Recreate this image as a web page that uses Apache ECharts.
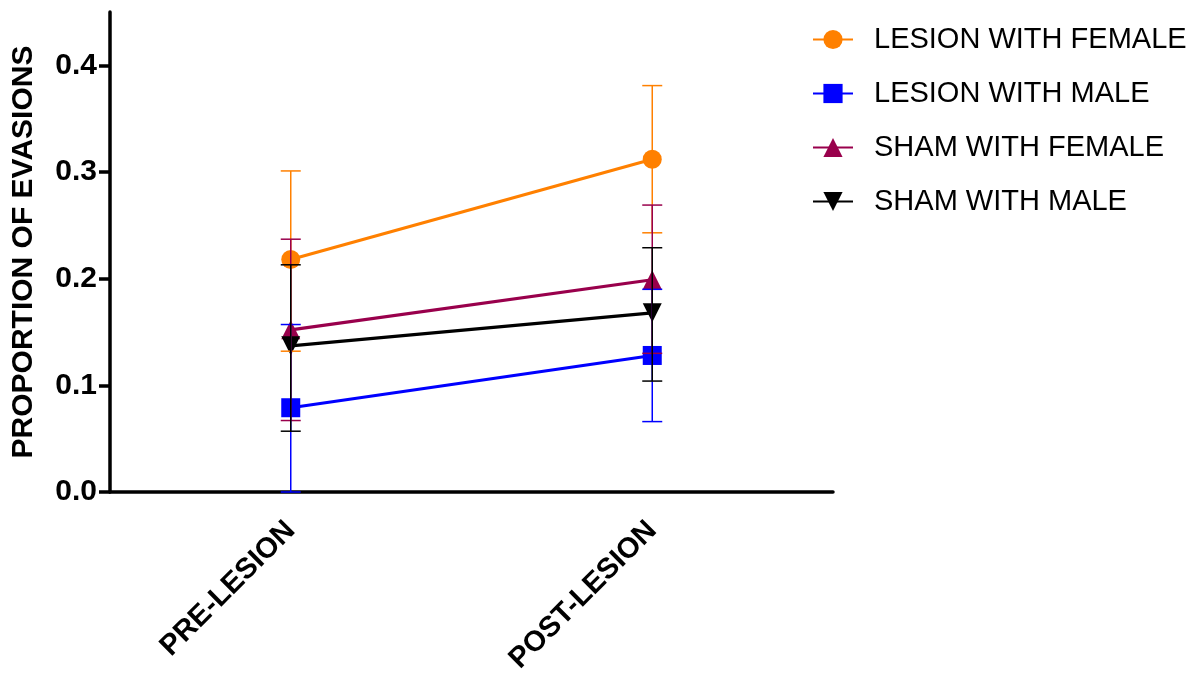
<!DOCTYPE html>
<html><head><meta charset="utf-8">
<script src="https://cdn.jsdelivr.net/npm/echarts@6/dist/echarts.min.js"></script>
<style>html,body{margin:0;padding:0;background:#fff}#c{width:1196px;height:677px}</style>
</head><body><div id="c"></div>
<script>
const categories = ['PRE-LESION', 'POST-LESION'];
const seriesNames = ['LESION WITH FEMALE', 'LESION WITH MALE', 'SHAM WITH FEMALE', 'SHAM WITH MALE'];
const lesionFemale = [0.218, 0.312];
const lesionMale = [0.079, 0.128];
const shamFemale = [0.152, 0.199];
const shamMale = [0.137, 0.168];
const lesionFemaleErr = [[0.132, 0.301], [0.243, 0.381]];
const lesionMaleErr = [[0.0, 0.157], [0.066, 0.190]];
const shamFemaleErr = [[0.067, 0.237], [0.130, 0.269]];
const shamMaleErr = [[0.057, 0.213], [0.104, 0.229]];
const yTicks = [0, 0.1, 0.2, 0.3, 0.4];

const colors = ['#ff8000', '#0000ff', '#99004c', '#000000'];
const symbols = ['circle', 'rect', 'triangle', 'path://M0,0 L10,0 L5,9 Z'];
const means = [lesionFemale, lesionMale, shamFemale, shamMale];
const errs = [lesionFemaleErr, lesionMaleErr, shamFemaleErr, shamMaleErr];
const font = '"Liberation Sans", Arial, sans-serif';

const series = [];
means.forEach((m, i) => {
  series.push({
    name: seriesNames[i], type: 'line', data: m, z: 2,
    symbol: symbols[i], symbolSize: 19,
    lineStyle: {color: colors[i], width: 3.2},
    itemStyle: {color: colors[i]}
  });
});
errs.forEach((e, i) => {
  series.push({
    name: seriesNames[i], type: 'custom', z: 5,
    data: e.map((d, k) => [k, d[0], d[1]]),
    renderItem: (params, api) => {
      const lo = api.coord([api.value(0), api.value(1)]);
      const hi = api.coord([api.value(0), api.value(2)]);
      const hw = 10;
      const st = {stroke: colors[i], lineWidth: 1.5};
      return {type: 'group', children: [
        {type: 'line', shape: {x1: lo[0], y1: lo[1], x2: hi[0], y2: hi[1]}, style: st},
        {type: 'line', shape: {x1: lo[0]-hw, y1: lo[1], x2: lo[0]+hw, y2: lo[1]}, style: st},
        {type: 'line', shape: {x1: hi[0]-hw, y1: hi[1], x2: hi[0]+hw, y2: hi[1]}, style: st}
      ]};
    }
  });
});

const chart = echarts.init(document.getElementById('c'));
chart.setOption({
  animation: false,
  backgroundColor: '#fff',
  grid: {left: 110, right: 363, top: 12, bottom: 185},
  legend: {
    orient: 'vertical', left: 807, top: 20, itemGap: 25,
    itemWidth: 40, itemHeight: 24,
    data: seriesNames,
    textStyle: {fontFamily: font, fontSize: 29, color: '#000', padding: [0,0,0,16]}
  },
  xAxis: {
    type: 'category', data: categories, boundaryGap: true,
    axisLine: {lineStyle: {color: '#000', width: 3.5}},
    axisTick: {alignWithLabel: true, length: 11, lineStyle: {width: 3.5, color: '#000'}},
    axisLabel: {rotate: 45, margin: 34, fontFamily: font, fontWeight: 'bold', fontSize: 29, color: '#000'}
  },
  yAxis: {
    type: 'value', min: 0, max: 0.45, interval: 0.1,
    name: 'PROPORTION OF EVASIONS', nameLocation: 'middle', nameGap: 71,
    nameTextStyle: {fontFamily: font, fontWeight: 'bold', fontSize: 30, color: '#000'},
    splitLine: {show: false},
    axisLine: {show: true, lineStyle: {color: '#000', width: 3.5}},
    axisTick: {show: true, length: 11, lineStyle: {width: 3.5, color: '#000'}, customValues: yTicks},
    axisLabel: {customValues: yTicks, formatter: v => v.toFixed(1), margin: 13, fontFamily: font, fontWeight: 'bold', fontSize: 30, color: '#000'}
  },
  series: series
});
</script></body></html>
